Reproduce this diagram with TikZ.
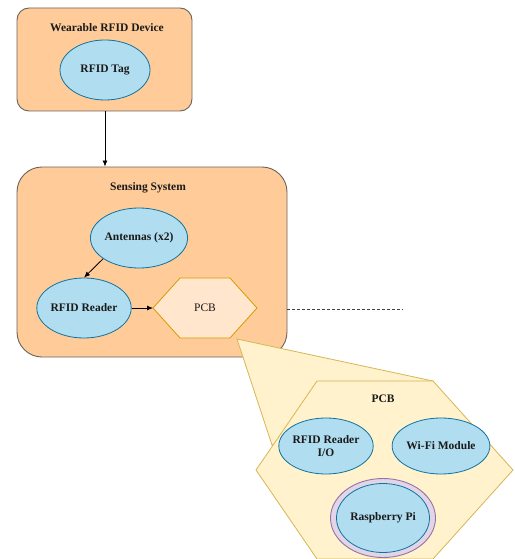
\documentclass[tikz,border=0pt]{standalone}
\usepackage{fontspec}
\setmainfont{Liberation Serif}
\usetikzlibrary{shapes.geometric,arrows.meta}
\definecolor{boxfill}{HTML}{FFCC99}
\definecolor{boxline}{HTML}{6B625A}
\definecolor{partfill}{HTML}{B1DDF0}
\definecolor{partline}{HTML}{10739E}
\definecolor{pcbfill}{HTML}{FFE6CC}
\definecolor{pcbline}{HTML}{D79B00}
\definecolor{zoomfill}{HTML}{FFF2CC}
\definecolor{zoomline}{HTML}{D6B656}
\definecolor{pifill}{HTML}{E1D5E7}
\definecolor{piline}{HTML}{9673A6}
\definecolor{ink}{HTML}{1A1A1A}
\begin{document}
\begin{tikzpicture}[x=1pt,y=-1pt,
  font=\fontsize{11.5}{13}\selectfont\bfseries, text=ink,
  container/.style={draw=boxline, fill=boxfill, line width=0.9pt, rectangle, inner sep=0pt},
  part/.style={draw=partline, fill=partfill, line width=0.8pt, ellipse, inner sep=0pt, align=center},
  title/.style={inner sep=0pt},
  arr/.style={-{Latex[length=6pt,width=5pt]}, line width=0.8pt, draw=black}
]
\useasboundingbox (0,0) rectangle (514,559);

% wearable device
\node[container, rounded corners=12pt, minimum width=175pt, minimum height=103pt] (wear) at (104.5,59.5) {};
\node[title] (weartitle) at (107,28) {Wearable RFID Device};
\node[part, minimum width=90pt, minimum height=60pt] (tag) at (105,70) {RFID Tag};

% sensing system
\node[container, rounded corners=25pt, minimum width=270pt, minimum height=190pt] (sens) at (152,262) {};
\node[title] (senstitle) at (148,188) {Sensing System};
\node[part, minimum width=75pt, minimum height=60pt] (ant) at (139,238) {Antennas (x2)};
\node[part, minimum width=90pt, minimum height=60pt] (reader) at (84,308) {RFID Reader};

% small PCB hexagon
\coordinate (pcbL) at (153,308);
\coordinate (pcbBR) at (230,338);
\filldraw[fill=pcbfill, draw=pcbline, line width=0.8pt]
  (pcbL) -- (180,278) -- (230,278) -- (257,308) -- (pcbBR) -- (180,338) -- cycle;
\node[title, font=\fontsize{11.5}{13}\selectfont] (pcb) at (205,308) {PCB};

\draw[arr] (tag.south |- wear.south) -- (tag.south |- sens.north);
\draw[arr] (ant.210) -- (reader.north);
\draw[arr] (reader.east) -- (pcbL);

% dashed lead
\coordinate (dashend) at (403,309);
\draw[dash pattern=on 3pt off 2pt, line width=0.8pt, draw=black!75] (sens.east |- dashend) -- (dashend);

% zoom wedge and enlarged PCB
\coordinate (apex) at (237,339);
\coordinate (hexTR) at (433,381);
\coordinate (wedgeL) at (272,445);
\filldraw[fill=zoomfill, draw=zoomline, line width=0.8pt] (apex) -- (hexTR) -- (wedgeL) -- cycle;
\filldraw[fill=zoomfill, draw=zoomline, line width=0.8pt]
  (256,470) -- (317,381) -- (hexTR) -- (513,470) -- (433,559) -- (317,559) -- cycle;
\node[title] (bigpcb) at (383,399) {PCB};
\node[part, minimum width=86pt, minimum height=56pt] (rio) at (326,446) {RFID Reader\\I/O};
\node[part, minimum width=92pt, minimum height=56pt] (wifi) at (441,446) {Wi-Fi Module};
\node[ellipse, draw=piline, fill=pifill, line width=0.9pt, minimum width=105pt, minimum height=79pt, inner sep=0pt] (piring) at (383,518) {};
\node[part, minimum width=93pt, minimum height=69pt] (pi) at (383,518) {Raspberry Pi};
\end{tikzpicture}
\end{document}
